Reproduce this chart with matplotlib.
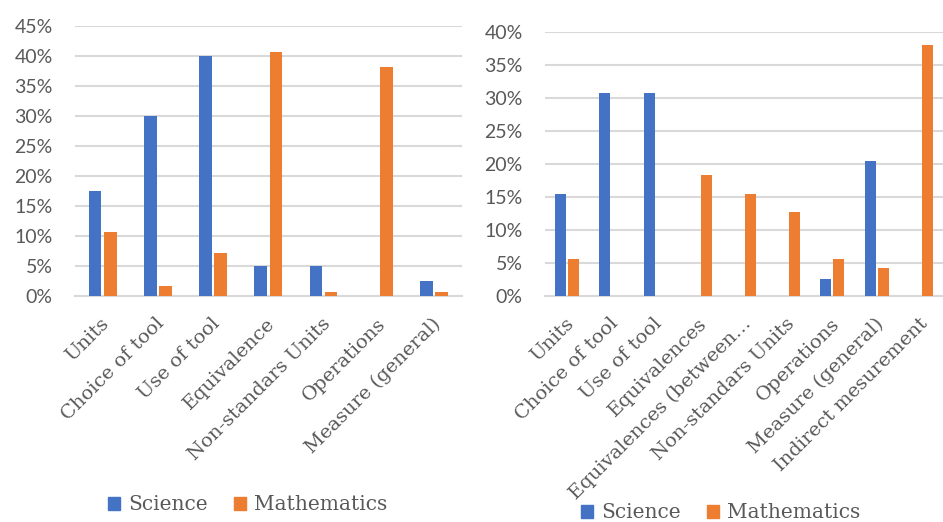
import numpy as np
import matplotlib.pyplot as plt
import matplotlib.transforms as mtransforms
from matplotlib.patches import Patch
from matplotlib.ticker import FuncFormatter


left_cats = ['Units', 'Choice of tool', 'Use of tool', 'Equivalence',
             'Non-standars Units', 'Operations', 'Measure (general)']
left_science = [17.5, 30.0, 40.0, 5.0, 5.0, 0.0, 2.5]
left_math = [10.6, 1.7, 7.1, 40.6, 0.6, 38.2, 0.6]

right_cats = ['Units', 'Choice of tool', 'Use of tool', 'Equivalences',
              'Equivalences (between\u2026', 'Non-standars Units', 'Operations',
              'Measure (general)', 'Indirect mesurement']
right_science = [15.4, 30.8, 30.8, 0.0, 0.0, 0.0, 2.6, 20.5, 0.0]
right_math = [5.6, 0.0, 0.0, 18.3, 15.5, 12.7, 5.6, 4.2, 38.0]

blue = '#4472C4'
orange = '#ED7D31'
grey_txt = '#595959'
grid_c = '#D9D9D9'

fig = plt.figure(figsize=(9.43, 5.22), dpi=100)
shift = mtransforms.ScaledTranslation(0.04, 0, fig.dpi_scale_trans)


def draw(ax, cats, sci, mat, ymax, width, off):
    x = np.arange(len(cats))
    ax.bar(x - off, sci, width, color=blue, zorder=3)
    ax.bar(x + off, mat, width, color=orange, zorder=3)
    ax.set_xlim(-0.5, len(cats) - 0.5)
    ax.set_ylim(0, ymax)
    ax.set_yticks(np.arange(0, ymax + 1, 5))
    ax.yaxis.set_major_formatter(FuncFormatter(lambda v, p: f'{v:.0f}%'))
    ax.grid(axis='y', color=grid_c, linewidth=1.5, zorder=0)
    for s in ['top', 'right', 'left']:
        ax.spines[s].set_visible(False)
    ax.spines['bottom'].set_color(grid_c)
    ax.spines['bottom'].set_linewidth(1.5)
    ax.tick_params(axis='both', length=0)
    ax.tick_params(axis='y', pad=16, labelsize=14, labelcolor=grey_txt)
    for t in ax.get_yticklabels():
        t.set_fontfamily('Lato')
    ax.set_xticks(x)
    ax.set_xticklabels(cats, rotation=45, ha='right', va='center',
                       rotation_mode='anchor', fontsize=14, color=grey_txt,
                       family='DejaVu Serif')
    ax.tick_params(axis='x', pad=18)
    for t in ax.get_xticklabels():
        t.set_transform(t.get_transform() + shift)


ax1 = fig.add_axes([0.0795, 0.4335, 0.410, 0.517])
draw(ax1, left_cats, left_science, left_math, 45, 0.23, 0.138)

ax2 = fig.add_axes([0.578, 0.4335, 0.422, 0.5046])
draw(ax2, right_cats, right_science, right_math, 40, 0.25, 0.147)

handles = [Patch(color=blue, label='Science'), Patch(color=orange, label='Mathematics')]
legend_kw = dict(loc='center', ncol=2, frameon=False, handlelength=0.6,
                 handleheight=0.6, handletextpad=0.4, columnspacing=1.3,
                 prop={'family': 'DejaVu Serif', 'size': 14.5}, labelcolor=grey_txt)
fig.legend(handles=handles, bbox_to_anchor=(248 / 943, 1 - 505 / 522), **legend_kw)
fig.legend(handles=handles, bbox_to_anchor=(721 / 943, 1 - 513 / 522), **legend_kw)

fig.savefig('out.png', dpi=100)
